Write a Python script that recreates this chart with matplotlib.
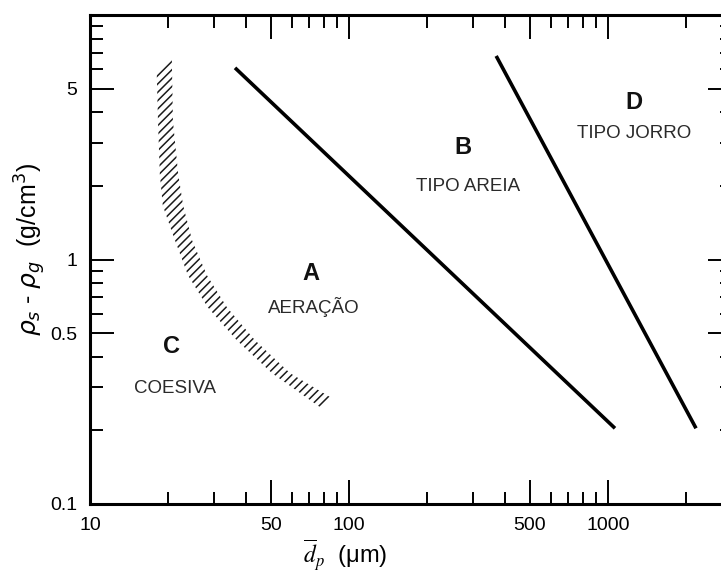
import numpy as np
import matplotlib.pyplot as plt
from matplotlib.patches import Polygon
from matplotlib.ticker import FixedLocator, NullFormatter

plt.rcParams['font.family'] = ['Liberation Sans', 'DejaVu Sans']
plt.rcParams['hatch.linewidth'] = 1.1

# boundary A/B and B/D (particle size um, density difference g/cm3)
ab_x = [36.3, 1064]
ab_y = [6.08, 0.204]
bd_x = [370, 2187]
bd_y = [6.8, 0.204]

# hatched A/C transition band, left and right edges
band_left_x = [18.1, 18.3, 18.6, 19.1, 21.3, 23.9, 28.5, 36.9, 50.4, 77.3]
band_left_y = [5.79, 3.69, 2.24, 1.66, 1.196, 0.861, 0.637, 0.467, 0.343, 0.249]
band_right_x = [20.7, 20.9, 21.9, 22.9, 24.8, 28.3, 33.8, 43.4, 59.2, 85.9]
band_right_y = [6.61, 3.69, 2.24, 1.66, 1.196, 0.861, 0.637, 0.467, 0.343, 0.271]

# group labels
groups = ['A', 'B', 'C', 'D']
group_names = ['AERAÇÃO', 'TIPO AREIA', 'COESIVA', 'TIPO JORRO']
letter_pos = [(71.3, 0.877), (275, 2.86), (20.7, 0.441), (1259, 4.38)]
name_pos = [(73.3, 0.637), (288, 1.99), (21.3, 0.297), (1259, 3.27)]

x_major = [10, 50, 100, 500, 1000]
y_major = [0.1, 0.5, 1, 5]
x_minor = [20, 30, 40, 60, 70, 80, 90, 200, 300, 400, 600, 700, 800, 900, 2000]
y_minor = [0.2, 0.3, 0.4, 0.6, 0.7, 0.8, 0.9, 2, 3, 4, 6, 7, 8, 9]

fig = plt.figure(figsize=(7.21, 5.74), dpi=100)
W, H = 721, 574
px_dec = 259
xmin, xmax = 10, 3000
ax_w = np.log10(xmax / xmin) * px_dec
ax_h = 504 - 15
ax = fig.add_axes([90 / W, (H - 504) / H, ax_w / W, ax_h / H])
ax.set_xscale('log')
ax.set_yscale('log')
ax.set_xlim(xmin, xmax)
ax.set_ylim(0.1, 10)

ax.plot(ab_x, ab_y, color='black', lw=2.6, solid_capstyle='butt')
ax.plot(bd_x, bd_y, color='black', lw=2.6, solid_capstyle='butt')

verts = list(zip(band_left_x, band_left_y)) + list(zip(band_right_x[::-1], band_right_y[::-1]))
ax.add_patch(Polygon(verts, closed=True, facecolor='none', edgecolor='#1a1a1a',
                     linewidth=0, hatch='////'))

for g, (x, y) in zip(groups, letter_pos):
    ax.text(x, y, g, fontsize=17, fontweight='bold', ha='center', va='center', color='#111111')
for n, (x, y) in zip(group_names, name_pos):
    ax.text(x, y, n, fontsize=13.5, ha='center', va='center', color='#2a2a2a')

ax.xaxis.set_major_locator(FixedLocator(x_major))
ax.xaxis.set_minor_locator(FixedLocator(x_minor))
ax.yaxis.set_major_locator(FixedLocator(y_major))
ax.yaxis.set_minor_locator(FixedLocator(y_minor))
ax.set_xticklabels([str(v) for v in x_major])
ax.set_yticklabels([str(v) for v in y_major])
ax.xaxis.set_minor_formatter(NullFormatter())
ax.yaxis.set_minor_formatter(NullFormatter())
ax.tick_params(which='both', direction='in', top=True, right=True, labelsize=14, width=1.4)
ax.tick_params(which='major', length=17)
ax.tick_params(which='minor', length=9)
ax.tick_params(axis='x', which='major', pad=9)
ax.tick_params(axis='y', which='major', pad=9)
for s in ax.spines.values():
    s.set_linewidth(2.2)

ax.set_xlabel(r'$\overline{d}_p$' + '  (μm)', fontsize=17, math_fontfamily='stix')
ax.xaxis.set_label_coords((345 - 90) / ax_w, -(537 - 504) / ax_h)
ax.set_ylabel(r'$\rho_s$ - $\rho_g$  (g/cm$^3$)', fontsize=18, math_fontfamily='dejavusans')
ax.yaxis.set_label_coords(-(90 - 48) / ax_w, (504 - 250) / ax_h)

fig.savefig('out.png', dpi=100)
